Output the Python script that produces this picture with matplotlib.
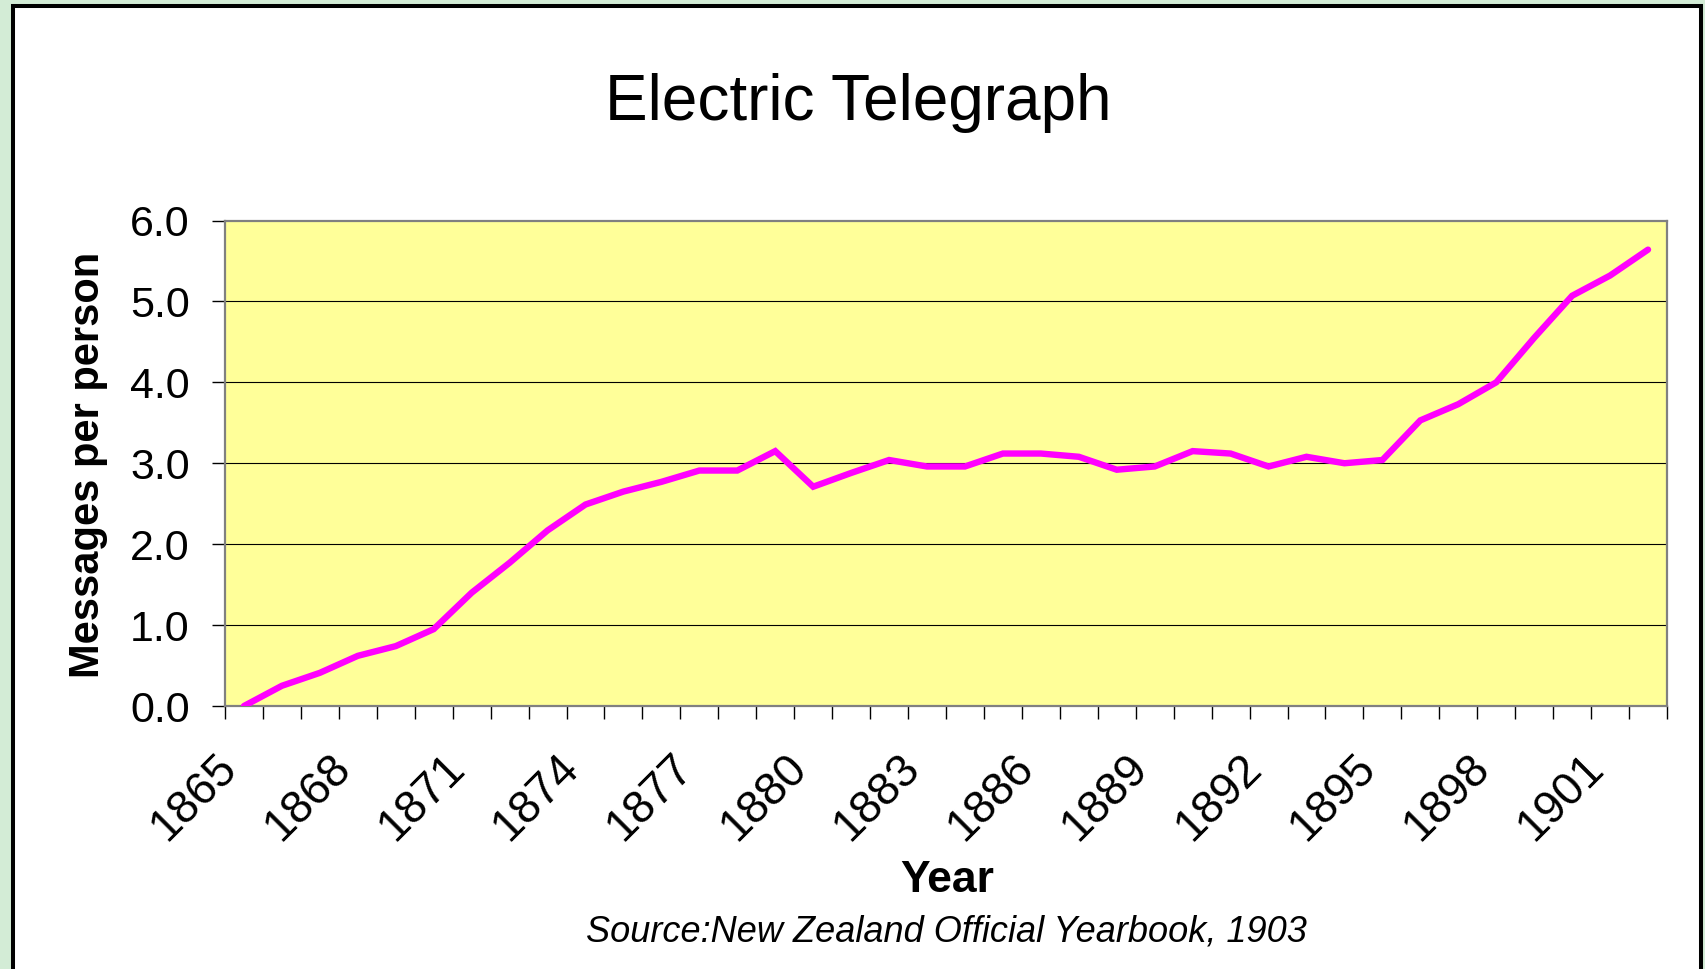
import matplotlib
matplotlib.use("Agg")
import matplotlib.pyplot as plt
import matplotlib.transforms as mtransforms
from matplotlib.patches import Rectangle
from matplotlib.ticker import FixedLocator, FormatStrFormatter

plt.rcParams['font.family'] = ['Liberation Sans', 'DejaVu Sans']

# Data (messages per person, New Zealand)
years = list(range(1865, 1903))
messages = [0.00, 0.25, 0.41, 0.62, 0.74, 0.95, 1.40, 1.77, 2.17, 2.49,
            2.65, 2.77, 2.91, 2.91, 3.15, 2.71, 2.88, 3.04, 2.96, 2.96,
            3.12, 3.12, 3.08, 2.92, 2.96, 3.15, 3.12, 2.96, 3.08, 3.00,
            3.04, 3.53, 3.73, 4.00, 4.55, 5.07, 5.32, 5.64]
y_ticks = [0, 1, 2, 3, 4, 5, 6]
label_years = years[::3]

W, H, DPI = 1705, 969, 100
fig = plt.figure(figsize=(W / DPI, H / DPI), dpi=DPI, facecolor='#d3ecd6')

# white chart panel with black frame
panel = Rectangle((13 / W, -0.05), (1701 - 13) / W, 1.05 - 5.5 / H,
                  transform=fig.transFigure, facecolor='white',
                  edgecolor='black', linewidth=2.9, zorder=-5)
fig.patches.append(panel)

left, right = 225 / W, 1667 / W
top, bottom = 1 - 220.5 / H, 1 - 706 / H
ax = fig.add_axes([left, bottom, right - left, top - bottom])
ax.set_facecolor('#ffff99')

x = list(range(len(years)))
ax.plot(x, messages, color='#ff00ff', linewidth=4.6, solid_joinstyle='miter',
        solid_capstyle='round', zorder=3)

ax.set_xlim(-0.5, len(years) - 0.5)
ax.set_ylim(0, 6)

# y axis
ax.set_yticks(y_ticks)
ax.yaxis.set_major_formatter(FormatStrFormatter('%.1f'))
ax.tick_params(axis='y', direction='out', length=9.4, width=1.0, pad=16,
               labelsize=31, colors='black')
for v in y_ticks[1:-1]:
    ax.axhline(v, color='black', linewidth=0.8, zorder=1)

# x axis: tick marks on category boundaries, labels every 3rd year
ax.xaxis.set_minor_locator(FixedLocator([i - 0.5 for i in range(len(years) + 1)]))
ax.set_xticks([years.index(y) for y in label_years])
ax.set_xticklabels([str(y) for y in label_years], rotation=45,
                   ha='right', va='top', rotation_mode='anchor')
ax.tick_params(axis='x', which='major', length=0, pad=29, labelsize=33)
ax.tick_params(axis='x', which='minor', direction='out', length=9.4, width=1.0,
               color='black')
offset = mtransforms.ScaledTranslation(-29 / DPI, 0, fig.dpi_scale_trans)
for lab in ax.get_xticklabels():
    lab.set_transform(lab.get_transform() + offset)

for sp in ax.spines.values():
    sp.set_color('#808080')
    sp.set_linewidth(1.6)

fig.text(858 / W, 1 - 103 / H, 'Electric Telegraph', fontsize=46,
         ha='center', va='center')
fig.text(88 / W, 1 - 465 / H, 'Messages per person', fontsize=30,
         fontweight='bold', rotation=90, ha='center', va='center')
fig.text(947 / W, 1 - 880 / H, 'Year', fontsize=32, fontweight='bold',
         ha='center', va='center')
fig.text(946 / W, 1 - 932 / H, 'Source:New Zealand Official Yearbook, 1903',
         fontsize=26, fontstyle='italic', ha='center', va='center')

fig.savefig('out.png', dpi=DPI, facecolor=fig.get_facecolor())
